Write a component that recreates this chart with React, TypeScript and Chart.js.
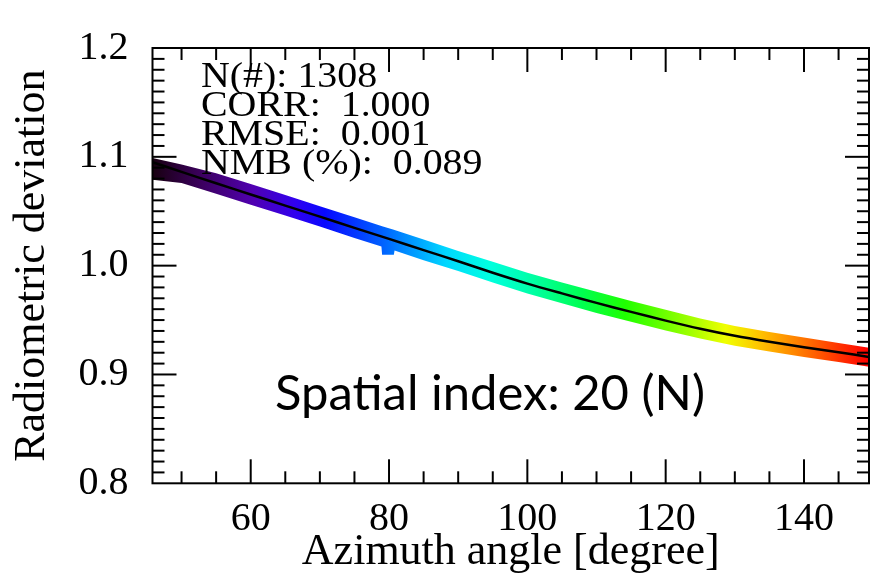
import React, { useEffect, useRef } from "react";
import { Chart, registerables } from "chart.js";

Chart.register(...registerables);

// ---- data ----
const fitAzimuth = [45.8, 50, 55, 60, 65, 70, 75, 80, 85, 90, 95, 100, 105, 110, 115, 120, 125, 130, 135, 140, 145, 149.4];
const fitDeviation = [1.095, 1.0862, 1.0757, 1.0654, 1.0552, 1.045, 1.0347, 1.0246, 1.0143, 1.004, 0.9935, 0.9835, 0.9745, 0.9658, 0.9575, 0.9495, 0.942, 0.9355, 0.93, 0.925, 0.9205, 0.916];

const bandAzimuth = [45.8, 50, 55, 60, 65, 70, 75, 78.9, 79.0, 80.7, 80.8, 85, 90, 95, 100, 105, 110, 115, 120, 125, 130, 135, 140, 145, 149.4];
const bandUpper = [1.099, 1.093, 1.085, 1.075, 1.065, 1.0545, 1.0445, 1.0365, 1.0363, 1.033, 1.0328, 1.024, 1.0135, 1.0035, 0.9935, 0.9845, 0.976, 0.9675, 0.9595, 0.9515, 0.9445, 0.939, 0.934, 0.929, 0.9245];
const bandLower = [1.079, 1.076, 1.066, 1.056, 1.046, 1.036, 1.0255, 1.0175, 1.01, 1.01, 1.014, 1.005, 0.995, 0.9845, 0.9745, 0.9655, 0.9565, 0.9485, 0.9405, 0.933, 0.9265, 0.921, 0.916, 0.9115, 0.907];

const xTickLabels = [60, 80, 100, 120, 140];
const yTickLabels = [0.8, 0.9, 1.0, 1.1, 1.2];

const statLines = ["N(#): 1308", "CORR:  1.000", "RMSE:  0.001", "NMB (%):  0.089"];
const panelLabel = "Spatial index: 20 (N)";

// ---- styles ----
const SERIF = "'Liberation Serif', 'Times New Roman', serif";
const COLOR_STOPS: [number, string][] = [
  [0.0, "#180010"],
  [0.07, "#3c0060"],
  [0.14, "#5000b0"],
  [0.2, "#3000f0"],
  [0.24, "#0808ff"],
  [0.32, "#0060ff"],
  [0.41, "#00d8ff"],
  [0.47, "#00ffe0"],
  [0.52, "#00ffb0"],
  [0.6, "#00ff50"],
  [0.66, "#20ff00"],
  [0.74, "#90ff00"],
  [0.8, "#f0ff00"],
  [0.85, "#ffc000"],
  [0.9, "#ff8000"],
  [0.96, "#ff3000"],
  [1.0, "#ff0000"],
];

function bandGradient(c: any) {
  const chart = c.chart;
  const a = chart.chartArea;
  if (!a) return "rgba(0,0,0,0)";
  const g = chart.ctx.createLinearGradient(a.left, 0, a.right, 0);
  COLOR_STOPS.forEach(([f, col]) => g.addColorStop(f, col));
  return g;
}

const framePlugin = {
  id: "frameAndText",
  afterDraw(chart: any) {
    const { ctx, chartArea: a, scales } = chart;
    const x = scales.x;
    const y = scales.y;
    ctx.save();
    ctx.strokeStyle = "#000";
    ctx.lineWidth = 2;
    const seg = (x1: number, y1: number, x2: number, y2: number) => {
      ctx.beginPath();
      ctx.moveTo(x1, y1);
      ctx.lineTo(x2, y2);
      ctx.stroke();
    };
    for (let v = 50; v <= 145; v += 5) {
      const px = x.getPixelForValue(v);
      const len = v % 20 === 0 ? 24 : 12;
      seg(px, a.bottom, px, a.bottom - len);
      seg(px, a.top, px, a.top + len);
    }
    for (let i = 81; i <= 119; i++) {
      const py = y.getPixelForValue(i / 100);
      const len = i % 10 === 0 ? 24 : 12;
      seg(a.left, py, a.left + len, py);
      seg(a.right, py, a.right - len, py);
    }
    ctx.strokeRect(a.left, a.top, a.right - a.left, a.bottom - a.top);

    // statistics text
    ctx.fillStyle = "#000";
    ctx.textBaseline = "alphabetic";
    ctx.textAlign = "left";
    ctx.font = `35px ${SERIF}`;
    statLines.forEach((t, i) => {
      ctx.save();
      ctx.translate(201, 87 + i * 28.9);
      ctx.scale(1.14, 1);
      ctx.fillText(t, 0, 0);
      ctx.restore();
    });

    // panel label
    ctx.font = `48px Lato, 'Open Sans', sans-serif`;
    const w = ctx.measureText(panelLabel).width;
    ctx.save();
    ctx.translate(275, 410);
    ctx.scale(430 / w, 1);
    ctx.fillText(panelLabel, 0, 0);
    ctx.restore();
    ctx.restore();
  },
};

export default function App() {
  const ref = useRef<HTMLCanvasElement | null>(null);
  useEffect(() => {
    if (!ref.current) return;
    const chart = new Chart(ref.current, {
      type: "line",
      data: {
        datasets: [
          {
            label: "fit",
            data: fitAzimuth.map((v, i) => ({ x: v, y: fitDeviation[i] })),
            borderColor: "#000",
            borderWidth: 2.5,
            pointRadius: 0,
            tension: 0.3,
            fill: false,
            order: 0,
          },
          {
            label: "upper",
            data: bandAzimuth.map((v, i) => ({ x: v, y: bandUpper[i] })),
            borderWidth: 0,
            borderColor: "rgba(0,0,0,0)",
            pointRadius: 0,
            fill: "+1",
            backgroundColor: bandGradient,
            order: 1,
          },
          {
            label: "lower",
            data: bandAzimuth.map((v, i) => ({ x: v, y: bandLower[i] })),
            borderWidth: 0,
            borderColor: "rgba(0,0,0,0)",
            pointRadius: 0,
            fill: false,
            order: 2,
          },
        ],
      },
      options: {
        animation: false,
        responsive: false,
        devicePixelRatio: 1,
        layout: { padding: { left: 0, right: 4, top: 29.3, bottom: 0 } },
        plugins: { legend: { display: false }, tooltip: { enabled: false } },
        scales: {
          x: {
            type: "linear",
            min: 45.8,
            max: 149.4,
            grid: { display: false, drawTicks: false },
            border: { display: false },
            afterBuildTicks: (s: any) => {
              s.ticks = xTickLabels.map((v) => ({ value: v }));
            },
            afterFit: (s: any) => {
              s.height = 577 - 483.3;
            },
            ticks: {
              font: { family: SERIF, size: 40 },
              color: "#000",
              padding: 12,
              maxRotation: 0,
              autoSkip: false,
              callback: (v: any) => String(v),
            },
            title: {
              display: true,
              text: "Azimuth angle [degree]",
              font: { family: SERIF, size: 44, lineHeight: 1 },
              color: "#000",
              padding: { top: 0, bottom: 3 },
            },
          },
          y: {
            type: "linear",
            min: 0.8,
            max: 1.2,
            grid: { display: false, drawTicks: false },
            border: { display: false },
            afterBuildTicks: (s: any) => {
              s.ticks = yTickLabels.map((v) => ({ value: v }));
            },
            afterFit: (s: any) => {
              s.width = 152.5;
            },
            ticks: {
              font: { family: SERIF, size: 40 },
              color: "#000",
              padding: 24,
              autoSkip: false,
              callback: (v: any) => Number(v).toFixed(1),
            },
            title: {
              display: true,
              text: "Radiometric deviation",
              font: { family: SERIF, size: 44, lineHeight: 1 },
              color: "#000",
              padding: { top: 10, bottom: 0 },
            },
          },
        },
      },
      plugins: [framePlugin],
    });
    return () => chart.destroy();
  }, []);
  return (
    <div style={{ position: "absolute", left: 0, top: 0, width: 873, height: 577, background: "#fff" }}>
      <canvas ref={ref} width={873} height={577} style={{ display: "block" }} />
    </div>
  );
}
